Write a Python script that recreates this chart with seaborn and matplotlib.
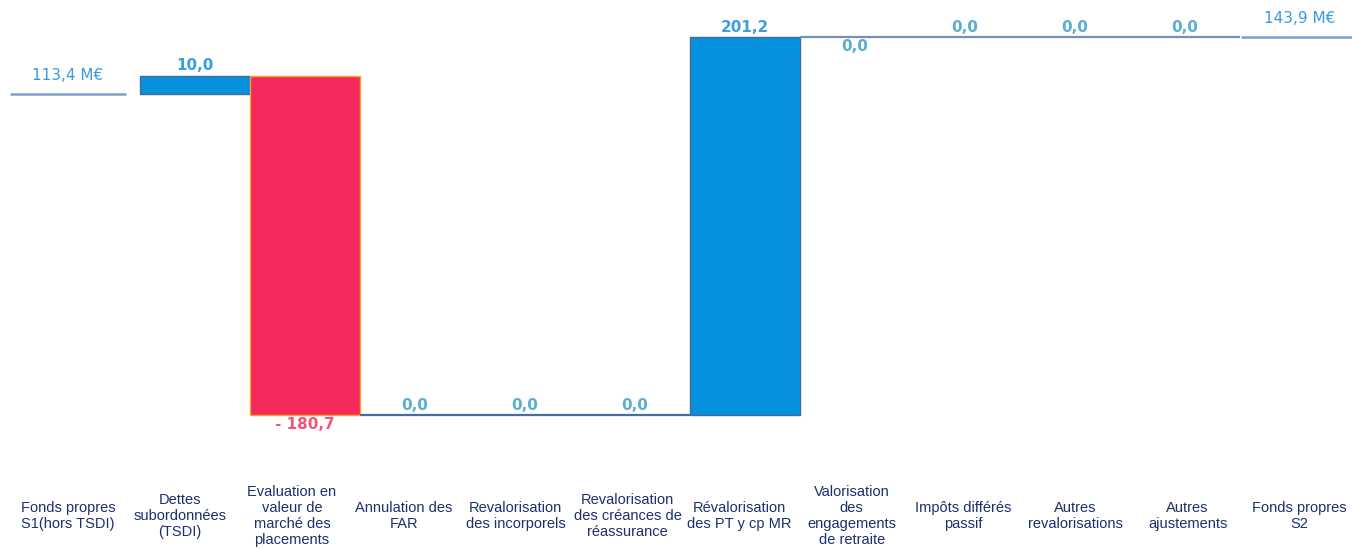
# Waterfall: Fonds propres S1 -> S2
import numpy as np
import pandas as pd
import matplotlib
matplotlib.use('Agg')
import matplotlib.pyplot as plt
import seaborn as sns

# Data
categories = ['Fonds propres\nS1(hors TSDI)', 'Dettes\nsubordonnées\n(TSDI)',
              'Evaluation en\nvaleur de\nmarché des\nplacements', 'Annulation des\nFAR',
              'Revalorisation\ndes incorporels', 'Revalorisation\ndes créances de\nréassurance',
              'Révalorisation\ndes PT y cp MR', 'Valorisation\ndes\nengagements\nde retraite',
              'Impôts différés\npassif', 'Autres\nrevalorisations', 'Autres\najustements',
              'Fonds propres\nS2']
kinds = ['total', 'delta', 'delta', 'delta', 'delta', 'delta',
         'delta', 'delta', 'delta', 'delta', 'delta', 'total']
values = [113.4, 10.0, -180.7, 0.0, 0.0, 0.0, 201.2, -0.0, 0.0, 0.0, 0.0, 143.9]

# Waterfall bottoms / heights
bottoms, heights = [], []
running = 0.0
for k, v in zip(kinds, values):
    if k == 'total':
        bottoms.append(v)
        heights.append(0.0)
        running = v
    else:
        bottoms.append(running)
        heights.append(v)
        running += v

df = pd.DataFrame({'cat': categories, 'height': heights})

def fmt(v):
    return f"{abs(v):.1f}".replace('.', ',')

# Colors
blue = '#0591DD'
blue_edge = '#45699A'
red = '#F42A5D'
red_edge = '#F5A623'
lbl_pos = '#3A9FDC'
lbl_zero = '#5AAFCF'
lbl_neg = '#F0557A'
tot_color = '#3A9AE0'
cat_color = '#1C2F6E'

sns.set_style('white')
fig = plt.figure(figsize=(13.52, 5.49), dpi=100)
ax = fig.add_axes([0, 0.1985, 1, 0.8015])

sns.barplot(data=df, x='cat', y='height', order=categories, width=1.0,
            errorbar=None, bottom=bottoms, color=blue, ax=ax)

# label positions are spread a little wider than the bars
tick_pos = np.arange(len(categories)) * 1.018 - 0.155

for i, p in enumerate(ax.patches):
    k, v = kinds[i], values[i]
    if k == 'total':
        p.set_visible(False)
        x = tick_pos[i]
        ax.hlines(v, x - 0.53, x + 0.53, color='#7E9ECC', lw=1.8)
        ax.annotate(f"{fmt(v)} M€", (x, v), xytext=(0, 8),
                    textcoords='offset points', ha='center', va='bottom',
                    color=tot_color, fontsize=11)
        continue
    top = bottoms[i] + heights[i]
    if v > 0:
        p.set_facecolor(blue)
        p.set_edgecolor(blue_edge)
        p.set_linewidth(1.0)
        ax.annotate(fmt(v), (i, top), xytext=(0, 1.5), textcoords='offset points',
                    ha='center', va='bottom', color=lbl_pos, fontsize=11, fontweight='bold')
    elif v < 0:
        p.set_facecolor(red)
        p.set_edgecolor(red_edge)
        p.set_linewidth(1.0)
        ax.annotate('- ' + fmt(v), (i, top), xytext=(0, -1.5), textcoords='offset points',
                    ha='center', va='top', color=lbl_neg, fontsize=11, fontweight='bold')
    else:
        p.set_facecolor('none')
        p.set_edgecolor('#4A6C9C' if top < 0 else '#7391BC')
        p.set_linewidth(1.6)
        if np.signbit(v):
            ax.annotate(fmt(v), (i, top), xytext=(0, -1.5), textcoords='offset points',
                        ha='center', va='top', color=lbl_zero, fontsize=11, fontweight='bold')
        else:
            ax.annotate(fmt(v), (i, top), xytext=(0, 1.5), textcoords='offset points',
                        ha='center', va='bottom', color=lbl_zero, fontsize=11, fontweight='bold')

ax.set_xlim(-0.773, 11.52)
ax.set_ylim(-70.46, 163.58)
ax.set_xticks(tick_pos, categories)
ax.set_xlabel('')
ax.set_ylabel('')
ax.set_yticks([])
sns.despine(ax=ax, left=True, bottom=True)
ax.tick_params(axis='x', length=0, pad=54.7)
for t in ax.get_xticklabels():
    t.set_va('center')
    t.set_family('Liberation Sans')
    t.set_fontsize(10.5)
    t.set_color(cat_color)
    t.set_linespacing(1.2)

fig.savefig('out.png', dpi=100)
